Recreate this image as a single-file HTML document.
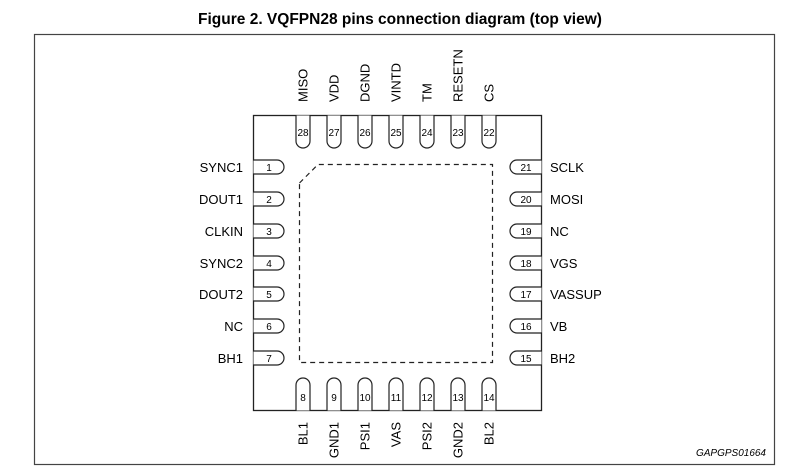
<!DOCTYPE html>
<html><head><meta charset="utf-8"><style>
html,body{margin:0;padding:0;background:#fff;}
svg{display:block;font-family:"Liberation Sans",Arial,sans-serif;}
</style></head><body>
<svg width="785" height="475" viewBox="0 0 785 475" xmlns="http://www.w3.org/2000/svg">
<text x="400" y="24" font-size="15.5" font-weight="bold" text-anchor="middle" fill="#000">Figure 2. VQFPN28 pins connection diagram (top view)</text>
<rect x="34.5" y="34.5" width="740" height="430" fill="none" stroke="#444" stroke-width="1.2"/>
<rect x="253.5" y="115.5" width="288" height="295" fill="none" stroke="#222" stroke-width="1.3"/>
<path d="M299.5,183 L318,164.5 L492.5,164.5 L492.5,362.5 L299.5,362.5 Z" fill="none" stroke="#222" stroke-width="1.2" stroke-dasharray="5,4"/>
<g stroke="#222" stroke-width="1.2" fill="#fff">
<!-- left pins -->
<path d="M253.5,160 H277 A7,7 0 0 1 277,174 H253.5"/>
<path d="M253.5,192 H277 A7,7 0 0 1 277,206 H253.5"/>
<path d="M253.5,224 H277 A7,7 0 0 1 277,238 H253.5"/>
<path d="M253.5,256 H277 A7,7 0 0 1 277,270 H253.5"/>
<path d="M253.5,287 H277 A7,7 0 0 1 277,301 H253.5"/>
<path d="M253.5,319 H277 A7,7 0 0 1 277,333 H253.5"/>
<path d="M253.5,351 H277 A7,7 0 0 1 277,365 H253.5"/>
<!-- right pins -->
<path d="M541.5,160 H517 A7,7 0 0 0 517,174 H541.5"/>
<path d="M541.5,192 H517 A7,7 0 0 0 517,206 H541.5"/>
<path d="M541.5,224 H517 A7,7 0 0 0 517,238 H541.5"/>
<path d="M541.5,256 H517 A7,7 0 0 0 517,270 H541.5"/>
<path d="M541.5,287 H517 A7,7 0 0 0 517,301 H541.5"/>
<path d="M541.5,319 H517 A7,7 0 0 0 517,333 H541.5"/>
<path d="M541.5,351 H517 A7,7 0 0 0 517,365 H541.5"/>
<!-- top pins -->
<path d="M296,115.5 V141 A7,7 0 0 0 310,141 V115.5"/>
<path d="M327,115.5 V141 A7,7 0 0 0 341,141 V115.5"/>
<path d="M358,115.5 V141 A7,7 0 0 0 372,141 V115.5"/>
<path d="M389,115.5 V141 A7,7 0 0 0 403,141 V115.5"/>
<path d="M420,115.5 V141 A7,7 0 0 0 434,141 V115.5"/>
<path d="M451,115.5 V141 A7,7 0 0 0 465,141 V115.5"/>
<path d="M482,115.5 V141 A7,7 0 0 0 496,141 V115.5"/>
<!-- bottom pins -->
<path d="M296,410.5 V385 A7,7 0 0 1 310,385 V410.5"/>
<path d="M327,410.5 V385 A7,7 0 0 1 341,385 V410.5"/>
<path d="M358,410.5 V385 A7,7 0 0 1 372,385 V410.5"/>
<path d="M389,410.5 V385 A7,7 0 0 1 403,385 V410.5"/>
<path d="M420,410.5 V385 A7,7 0 0 1 434,385 V410.5"/>
<path d="M451,410.5 V385 A7,7 0 0 1 465,385 V410.5"/>
<path d="M482,410.5 V385 A7,7 0 0 1 496,385 V410.5"/>
</g>
<g font-size="10" fill="#000" text-anchor="middle">
<text x="269" y="171">1</text><text x="269" y="203">2</text><text x="269" y="235">3</text><text x="269" y="267">4</text><text x="269" y="298">5</text><text x="269" y="330">6</text><text x="269" y="362">7</text>
<text x="526" y="171">21</text><text x="526" y="203">20</text><text x="526" y="235">19</text><text x="526" y="267">18</text><text x="526" y="298">17</text><text x="526" y="330">16</text><text x="526" y="362">15</text>
<text x="303" y="136">28</text><text x="334" y="136">27</text><text x="365" y="136">26</text><text x="396" y="136">25</text><text x="427" y="136">24</text><text x="458" y="136">23</text><text x="489" y="136">22</text>
<text x="303" y="401">8</text><text x="334" y="401">9</text><text x="365" y="401">10</text><text x="396" y="401">11</text><text x="427" y="401">12</text><text x="458" y="401">13</text><text x="489" y="401">14</text>
</g>
<g font-size="13" fill="#000" text-anchor="end">
<text x="243" y="172">SYNC1</text><text x="243" y="204">DOUT1</text><text x="243" y="236">CLKIN</text><text x="243" y="268">SYNC2</text><text x="243" y="299">DOUT2</text><text x="243" y="331">NC</text><text x="243" y="363">BH1</text>
</g>
<g font-size="13" fill="#000">
<text x="550" y="172">SCLK</text><text x="550" y="204">MOSI</text><text x="550" y="236">NC</text><text x="550" y="268">VGS</text><text x="550" y="299">VASSUP</text><text x="550" y="331">VB</text><text x="550" y="363">BH2</text>
</g>
<g font-size="13" fill="#000">
<text transform="translate(307.5,102) rotate(-90)">MISO</text>
<text transform="translate(338.5,102) rotate(-90)">VDD</text>
<text transform="translate(369.5,102) rotate(-90)">DGND</text>
<text transform="translate(400.5,102) rotate(-90)">VINTD</text>
<text transform="translate(431.5,102) rotate(-90)">TM</text>
<text transform="translate(462.5,102) rotate(-90)">RESETN</text>
<text transform="translate(493.5,102) rotate(-90)">CS</text>
</g>
<g font-size="13" fill="#000" text-anchor="end">
<text transform="translate(307.5,422) rotate(-90)">BL1</text>
<text transform="translate(338.5,422) rotate(-90)">GND1</text>
<text transform="translate(369.5,422) rotate(-90)">PSI1</text>
<text transform="translate(400.5,422) rotate(-90)">VAS</text>
<text transform="translate(431.5,422) rotate(-90)">PSI2</text>
<text transform="translate(462.5,422) rotate(-90)">GND2</text>
<text transform="translate(493.5,422) rotate(-90)">BL2</text>
</g>
<text x="766" y="456" font-size="10" font-style="italic" text-anchor="end" fill="#000">GAPGPS01664</text>
</svg>
</body></html>
